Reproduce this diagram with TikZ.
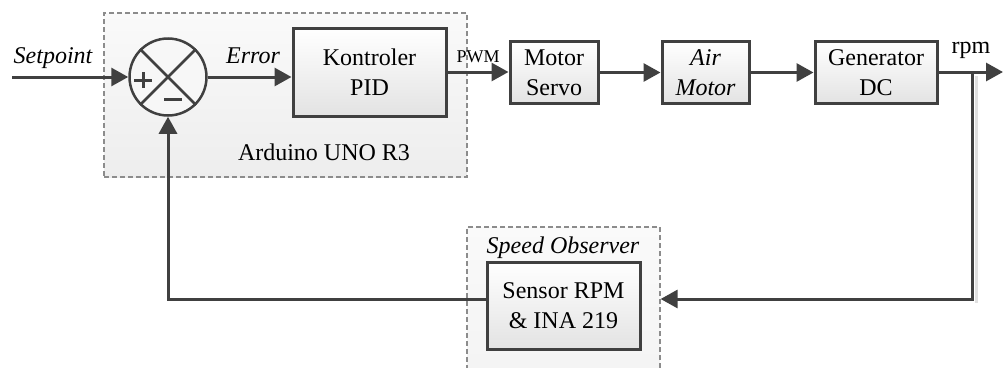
\documentclass[tikz,border=0pt]{standalone}
\usepackage{fontspec}
\setmainfont{LiberationSerif}[Extension=.ttf, UprightFont=*-Regular, ItalicFont=*-Italic, BoldFont=*-Bold, BoldItalicFont=*-BoldItalic]
\usetikzlibrary{arrows.meta,calc}
\definecolor{ink}{HTML}{404040}
\definecolor{frame}{HTML}{8C8C8C}

\begin{document}
\begin{tikzpicture}[x=1pt,y=-1pt,
  txt/.style={font=\fontsize{24}{30}\selectfont},
  itx/.style={font=\fontsize{24}{30}\selectfont\itshape},
  blockbox/.style={draw=ink, line width=3pt, top color=white, bottom color=black!11,
    align=center, inner sep=0pt, txt},
  group/.style={draw=frame, dash pattern=on 5pt off 3pt, line width=1.2pt,
    top color=black!2, bottom color=black!7, inner sep=0pt},
  wire/.style={draw=ink, line width=3pt},
  arr/.style={wire, -{Triangle[length=17pt,width=18pt]}},
]
\path[use as bounding box] (0,0) rectangle (1003,367);
\clip (0,0) rectangle (1003,367);

% dashed hardware groups
\node[group, minimum width=363pt, minimum height=164pt] (ard) at (285.5,95) {};
\node[group, minimum width=193pt, minimum height=300pt] (obs) at (563.5,377) {};

% summing junction
\node[circle, draw=ink, line width=2.5pt, minimum size=77pt, fill=black!3, inner sep=0pt] (sum) at (168,77) {};
\draw[ink, line width=2.5pt] (sum.north west) -- (sum.south east);
\draw[ink, line width=2.5pt] (sum.north east) -- (sum.south west);
\draw[ink, line width=3pt] (134,80) -- (152,80) (143,72) -- (143,88);
\draw[ink, line width=3pt] (164,99) -- (182,99);

% blocks
\node[blockbox, minimum width=153pt, minimum height=88pt] (pid) at (369.5,72) {Kontroler\\PID};
\node[blockbox, minimum width=88pt, minimum height=62pt] (servo) at (554,72.5) {Motor\\Servo};
\node[blockbox, minimum width=87pt, minimum height=62pt, font=\fontsize{24}{30}\selectfont\itshape] (air) at (705.5,72.5) {Air\\Motor};
\node[blockbox, minimum width=122pt, minimum height=62pt] (gen) at (876,72.5) {Generator\\DC};
\node[blockbox, minimum width=153pt, minimum height=87pt] (sensor) at (563.5,305.5) {Sensor RPM\\\& INA 219};

% signal points
\coordinate (sp) at (12,77);
\coordinate (br) at (972,72);
\coordinate (out) at (1003,72);
\coordinate (fbR) at (972,299);

% faint shadow along the feedback return
\draw[black!12, line width=3pt] ($(br)+(4,4)$) -- ($(fbR)+(4,4)$);

% connectors
\draw[arr] (sp) -- (sum.west);
\draw[arr] (sum.east) -- (sum.east -| pid.west);
\draw[arr] (pid.east) -- (servo.west |- pid.east);
\draw[arr] (servo.east) -- (air.west);
\draw[arr] (air.east) -- (gen.west);
\draw[arr] (gen.east |- br) -- (out);
\draw[arr] (br) -- (fbR) -- (fbR -| obs.east);
\draw[arr] (sensor.west |- fbR) -| (sum.south);

% labels
\node[itx, anchor=base] (lsp) at (53,63) {Setpoint};
\node[itx, anchor=base] (lerr) at (253,63) {Error};
\node[font=\fontsize{18}{20}\selectfont, anchor=base] (lpwm) at (478,62) {PWM};
\node[txt, anchor=base] (lrpm) at (971,53) {rpm};
\node[txt, anchor=base] (lard) at (324,160) {Arduino UNO R3};
\node[itx, anchor=base] (lobs) at (563,253) {Speed Observer};
\end{tikzpicture}
\end{document}
